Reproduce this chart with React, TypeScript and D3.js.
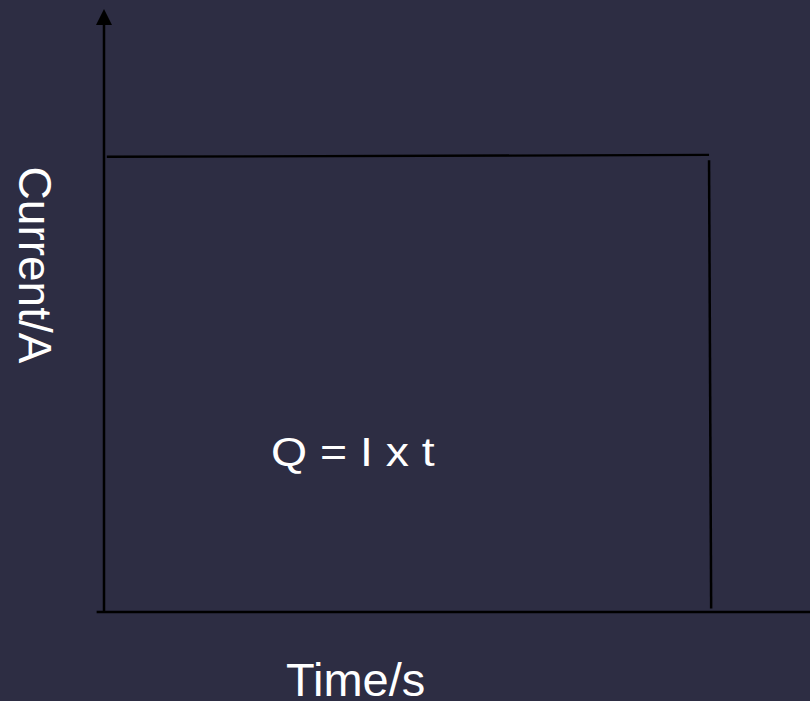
import React from "react";
import * as d3 from "d3";

// Schematic values (arbitrary units)
const currentLine = [
  { t: 0.04, i: 7.55 },
  { t: 8.57, i: 7.58 },
];
const dropLine = [
  { t: 8.57, i: 7.49 },
  { t: 8.6, i: 0.06 },
];
const xAxisRange = [-0.1, 10];
const yAxisRange = [0, 10];
const labels = { x: "Time/s", y: "Current/A", formula: "Q = I x t" };

const W = 810;
const H = 701;

export default function App() {
  const x = d3.scaleLinear().domain([0, 10]).range([104, 810]);
  const y = d3.scaleLinear().domain([0, 10]).range([612, 9]);
  const line = d3
    .line<{ t: number; i: number }>()
    .x((d) => x(d.t))
    .y((d) => y(d.i));
  const x0 = x(0);
  const y0 = y(0);
  const yTop = y(yAxisRange[1]);
  const font = "'Liberation Sans', Arial, sans-serif";
  return (
    <svg
      width={W}
      height={H}
      style={{ position: "absolute", left: 0, top: 0, display: "block" }}
    >
      <rect x={0} y={0} width={W} height={H} fill="#2d2d43" />
      {/* y axis */}
      <line x1={x0} x2={x0} y1={y0} y2={yTop + 12} stroke="#000" strokeWidth={2.5} />
      <path
        d={`M${x0},${yTop} L${x0 - 8},${yTop + 16} L${x0 + 8},${yTop + 16} Z`}
        fill="#000"
      />
      {/* x axis */}
      <line
        x1={x(xAxisRange[0]) - 0.3}
        x2={x(xAxisRange[1])}
        y1={y0}
        y2={y0}
        stroke="#000"
        strokeWidth={2.5}
      />
      <path d={line(currentLine) || ""} stroke="#000" strokeWidth={2.3} fill="none" />
      <path d={line(dropLine) || ""} stroke="#000" strokeWidth={2.5} fill="none" />
      <text
        transform="translate(271,466) scale(1.16,1)"
        fill="#fff"
        fontFamily={font}
        fontSize={40}
      >
        {labels.formula}
      </text>
      <text
        x={286}
        y={696}
        fill="#fff"
        fontFamily={font}
        fontSize={47}
      >
        {labels.x}
      </text>
      <text
        transform={`translate(19,265) rotate(90)`}
        fill="#fff"
        fontFamily={font}
        fontSize={46}
        textAnchor="middle"
      >
        {labels.y}
      </text>
    </svg>
  );
}
